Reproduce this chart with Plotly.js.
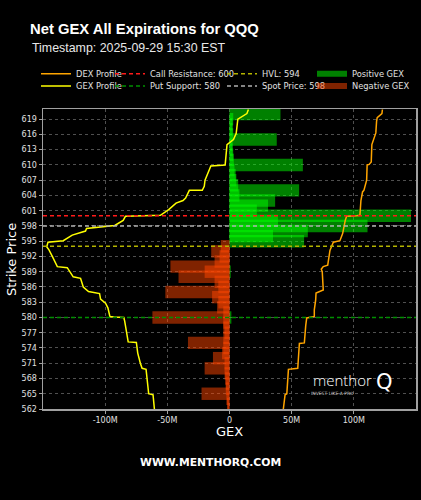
<!DOCTYPE html>
<html><head><meta charset="utf-8">
<script src="https://cdn.plot.ly/plotly-3.0.1.min.js"></script>
<style>html,body{margin:0;padding:0;background:#000;}#chart{width:421px;height:500px;}</style>
</head><body><div id="chart"></div>
<script>
// Net GEX per strike (millions)
const posStrikes = [620, 619, 618, 617, 616, 615, 614, 613, 612, 611, 610, 609, 608, 607, 606, 605, 604, 603, 602, 601, 600, 599, 598, 597, 596, 595, 589, 580];
const posGex     = [41, 3, 2.5, 2.5, 3, 38, 2.5, 2.5, 3, 3.5, 59, 4, 5, 5.5, 7, 56, 8, 36.7, 31, 22, 146, 39, 111, 63, 35, 60, 1, 1.5];
const negStrikes = [594, 593, 592, 591, 590, 589, 588, 587, 586, 585, 584, 583, 582, 581, 580, 579, 578, 577, 576, 575, 574, 573, 572, 571, 570, 569, 568, 567, 566, 565, 564, 563, 562];
const negGex     = [-7, -14.7, -8, -12, -47.5, -20, -41, -12, -9, -51.6, -14, -9, -10, -5, -62, -5, -5, -4, -5, -33.4, -5, -6, -13.3, -4, -20, -4, -3.5, -3, -3, -22.5, -2.5, -2, -1.5];

// GEX profile (strike, millions)
const gexProfStrike = [620.9, 620.1, 619, 616.2, 615, 614.2, 614, 610, 609.8, 609.2, 607, 605.8, 605, 605, 603.5, 603, 602.5, 601.2, 600.1, 599.9, 599.1, 598.1, 597.5, 597, 596.2, 595.1, 594.8, 593.9, 593.3, 592, 590, 589.8, 589.3, 588, 587.7, 586, 585.1, 584.7, 583.6, 582.8, 581.9, 580.2, 580.1, 580, 579.3, 575.2, 575.1, 573, 571, 570, 569.8, 565, 564.8, 562];
const gexProfValue  = [15.2, 14, 6.7, 5.4, 3.2, -1, -2, -3.5, -15, -16, -19.7, -20.3, -21.9, -32.3, -35.3, -37.4, -43, -48.9, -55.6, -83.7, -85.5, -92.3, -115, -115.8, -126.5, -133.7, -146, -147, -145.2, -142.5, -138.5, -130.5, -129.2, -125.7, -119.8, -117.6, -113.4, -104.5, -103.7, -99.7, -97.8, -96.2, -93, -85, -84.3, -81.5, -74.9, -73.8, -71.7, -70.3, -67.1, -65, -61.5, -60.4];

// DEX profile (strike, millions)
const dexProfStrike = [620.9, 620.1, 619.3, 618.6, 616.3, 614.8, 614, 610.6, 610.1, 610, 607, 605, 604.7, 603, 600.1, 600, 599.9, 599.1, 596.5, 595.1, 594.8, 593.2, 590.3, 590, 589.5, 589, 585.4, 584.8, 583.4, 581.5, 580.2, 579.9, 578.4, 575, 574.9, 570, 569.8, 565, 564.8, 562];
const dexProfValue  = [123, 122.6, 118.8, 118.3, 117.7, 115.6, 114.5, 114, 112.3, 110.7, 110.3, 108.1, 107, 105.7, 104.9, 102.2, 94.2, 93.1, 91, 88.8, 83.5, 80.8, 79, 75.4, 73.8, 74.6, 75.4, 69.6, 69.3, 68.2, 68.2, 62.1, 61.3, 60.2, 56.2, 54.9, 47.4, 46.1, 44.7, 43.3];

const callResistance = 600, putSupport = 580, hvl = 594, spotPrice = 598;
const xRange = [-150, 150];
const yRange = [562, 621];
const xTickVals = [-100, -50, 0, 50, 100];
const xTickText = ['-100M', '-50M', '0', '50M', '100M'];
const yTickVals = [562, 565, 568, 571, 574, 577, 580, 583, 586, 589, 592, 595, 598, 601, 604, 607, 610, 613, 616, 619];

const BAR_W = 2.44;
const POS_COLOR = 'rgba(0,255,0,0.5)';
const NEG_COLOR = 'rgba(255,69,0,0.5)';
const traces = [
  {type:'bar', orientation:'h', y:posStrikes, x:posGex, width:BAR_W, name:'Positive GEX', showlegend:false,
   marker:{color:POS_COLOR, line:{width:0}}, hoverinfo:'skip'},
  {type:'bar', orientation:'h', y:negStrikes, x:negGex, width:BAR_W, name:'Negative GEX', showlegend:false,
   marker:{color:NEG_COLOR, line:{width:0}}, hoverinfo:'skip'},
  {type:'scatter', mode:'lines', x:gexProfValue, y:gexProfStrike, name:'GEX Profile',
   line:{color:'#ffff00', width:1.5}, legend:'legend5'},
  {type:'scatter', mode:'lines', x:dexProfValue, y:dexProfStrike, name:'DEX Profile',
   line:{color:'#ffa500', width:1.5}, legend:'legend'},
  {type:'scatter', mode:'lines', x:[xRange[0], xRange[1]], y:[callResistance, callResistance], name:'Call Resistance: ' + callResistance,
   line:{color:'#ff1a1a', width:1.5, dash:'4px,3px'}, legend:'legend2'},
  {type:'scatter', mode:'lines', x:[xRange[0], xRange[1]], y:[putSupport, putSupport], name:'Put Support: ' + putSupport,
   line:{color:'#009000', width:1.5, dash:'4px,3px'}, legend:'legend6'},
  {type:'scatter', mode:'lines', x:[xRange[0], xRange[1]], y:[hvl, hvl], name:'HVL: ' + hvl,
   line:{color:'#b4b400', width:1.5, dash:'4px,3px'}, legend:'legend3'},
  {type:'scatter', mode:'lines', x:[xRange[0], xRange[1]], y:[spotPrice, spotPrice], name:'Spot Price: ' + spotPrice,
   line:{color:'#b0b0b0', width:1.5, dash:'4px,3px'}, legend:'legend7'},
  // legend swatches for the bar series
  {type:'scatter', mode:'lines', x:[null], y:[null], name:'Positive GEX', line:{color:POS_COLOR, width:6}, legend:'legend4'},
  {type:'scatter', mode:'lines', x:[null], y:[null], name:'Negative GEX', line:{color:NEG_COLOR, width:6}, legend:'legend8'}
];

const W = 421, H = 500;
const legFont = {family:'DejaVu Sans', size:8.3, color:'#e0e0e0'};
function leg(px, py) {
  return {x:px / W, y:1 - py / H, xref:'container', yref:'container', xanchor:'left', yanchor:'middle',
          bgcolor:'rgba(0,0,0,0)', borderwidth:0, font:legFont, itemwidth:30, orientation:'v'};
}
const row1 = 73.7, row2 = 86;
const c1 = 36, c2 = 110, c3 = 222, c4 = 312;

const PL = 43, PR = 416, PT = 109, PB = 409;
const px2x = p => (p - PL) / (PR - PL);
const py2y = p => (PB - p) / (PB - PT);

const layout = {
  width: W, height: H,
  paper_bgcolor:'#000', plot_bgcolor:'#000',
  margin:{l:PL, r:W - PR, t:PT, b:H - PB, pad:0, autoexpand:false},
  barmode:'overlay',
  showlegend:true,
  font:{family:'DejaVu Sans', color:'#e0e0e0'},
  title:{text:'Net GEX All Expirations for QQQ', xref:'container', yref:'container', x:30 / W, xanchor:'left',
         y:1 - 29 / H, yanchor:'middle', font:{family:'Liberation Sans', size:14.8, weight:'bold', color:'#ffffff'}},
  xaxis:{range:xRange, tickvals:xTickVals, ticktext:xTickText, showgrid:true, gridcolor:'#505050', griddash:'dot', gridwidth:1,
         zeroline:false, showline:true, mirror:true, linecolor:'#a0a0a0', linewidth:1.5,
         ticks:'outside', ticklen:3, tickcolor:'#a0a0a0', tickfont:{family:'DejaVu Sans', size:8, color:'#e0e0e0'},
         fixedrange:true},
  yaxis:{range:yRange, tickvals:yTickVals, showgrid:true, gridcolor:'#505050', griddash:'dot', gridwidth:1,
         zeroline:false, showline:true, mirror:true, linecolor:'#a0a0a0', linewidth:1.5,
         ticks:'outside', ticklen:3, tickcolor:'#a0a0a0', tickfont:{family:'DejaVu Sans', size:8, color:'#e0e0e0'},
         fixedrange:true},
  legend: leg(c1, row1), legend5: leg(c1, row2),
  legend2: leg(c2, row1), legend6: leg(c2, row2),
  legend3: leg(c3, row1), legend7: leg(c3, row2),
  legend4: leg(c4, row1), legend8: leg(c4, row2),
  annotations:[
    {text:'Timestamp: 2025-09-29 15:30 EST', xref:'paper', yref:'paper', x:px2x(30), y:py2y(48), xanchor:'left', yanchor:'middle',
     showarrow:false, font:{family:'Liberation Sans', size:12.4, color:'#e8e8e8'}},
    {text:'Strike Price', xref:'paper', yref:'paper', x:px2x(11), y:py2y(260), xanchor:'center', yanchor:'middle', textangle:-90,
     showarrow:false, font:{family:'DejaVu Sans', size:13, color:'#ffffff'}},
    {text:'GEX', xref:'paper', yref:'paper', x:px2x(229.5), y:py2y(431), xanchor:'center', yanchor:'middle',
     showarrow:false, font:{family:'DejaVu Sans', size:13, color:'#ffffff'}},
    {text:'<b>WWW.MENTHORQ.COM</b>', xref:'paper', yref:'paper', x:px2x(210), y:py2y(462), xanchor:'center', yanchor:'middle',
     showarrow:false, font:{family:'DejaVu Sans', size:10.8, color:'#ffffff'}},
    {text:'menthor', xref:'paper', yref:'paper', x:px2x(342), y:py2y(380), xanchor:'center', yanchor:'middle',
     showarrow:false, font:{family:'Open Sans', size:15, weight:300, color:'#ffffff'}},
    {text:'Q', xref:'paper', yref:'paper', x:px2x(384), y:py2y(382), xanchor:'center', yanchor:'middle',
     showarrow:false, font:{family:'DejaVu Sans', size:21, color:'#ffffff'}},
    {text:'INVEST LIKE A PRO', xref:'paper', yref:'paper', x:px2x(332), y:py2y(393), xanchor:'center', yanchor:'middle',
     showarrow:false, font:{family:'DejaVu Sans', size:4.5, color:'#cccccc'}}
  ]
};

Plotly.newPlot('chart', traces, layout, {staticPlot:true, displayModeBar:false});
</script>
</body></html>
